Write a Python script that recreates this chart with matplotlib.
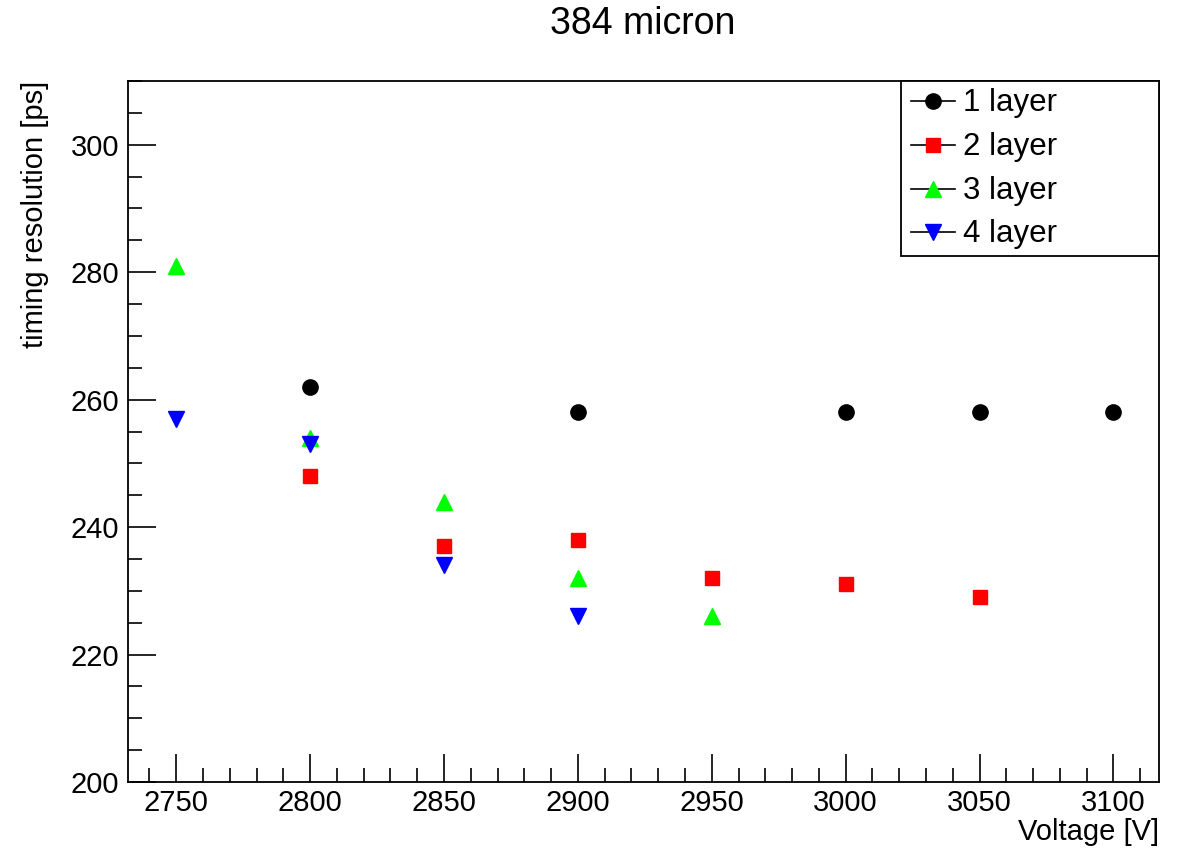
import matplotlib
matplotlib.use("Agg")
import matplotlib.pyplot as plt
from matplotlib.ticker import MultipleLocator
from matplotlib.lines import Line2D
from matplotlib.patches import Rectangle

plt.rcParams['font.family'] = ['Liberation Sans', 'DejaVu Sans']

# data
v1 = [2800, 2900, 3000, 3050, 3100]
t1 = [262, 258, 258, 258, 258]
v2 = [2800, 2850, 2900, 2950, 3000, 3050]
t2 = [248, 237, 238, 232, 231, 229]
v3 = [2750, 2800, 2850, 2900, 2950]
t3 = [281, 254, 244, 232, 226]
v4 = [2750, 2800, 2850, 2900]
t4 = [257, 253, 234, 226]
labels = ['1 layer', '2 layer', '3 layer', '4 layer']

styles = [('o', 'black', 11), ('s', '#ff0000', 10.5), ('^', '#00ff00', 11), ('v', '#0000ff', 11)]

fig = plt.figure(figsize=(11.84, 8.49), dpi=100)
ax = fig.add_axes([128/1184, 1-782/849, (1159-128)/1184, (782-81)/849])

for (vx, ty), (m, c, ms) in zip([(v1, t1), (v2, t2), (v3, t3), (v4, t4)], styles):
    ax.plot(vx, ty, m, color=c, ms=ms)

ax.set_xlim(2732, 3117)
ax.set_ylim(200, 310)
ax.xaxis.set_major_locator(MultipleLocator(50))
ax.xaxis.set_minor_locator(MultipleLocator(10))
ax.yaxis.set_major_locator(MultipleLocator(20))
ax.yaxis.set_minor_locator(MultipleLocator(5))
ax.tick_params(which='both', direction='in', top=False, right=False, labelsize=21, width=1.2)
ax.tick_params(which='major', length=20)
ax.tick_params(which='minor', length=10)
ax.tick_params(axis='x', which='major', pad=5)
ax.tick_params(axis='y', which='major', pad=6.5)
for s in ax.spines.values():
    s.set_linewidth(1.3)

fig.text(643/1184, 1-24/849, '384 micron', ha='center', va='center', fontsize=27)
fig.text(1159/1184, 1-818/849, 'Voltage [V]', ha='right', va='top', fontsize=21)
fig.text(35/1184, 1-81/849, 'timing resolution [ps]', ha='center', va='top', rotation=90, fontsize=21)

# ROOT-style legend box, drawn by hand in axes fractions
tr = ax.transAxes
ax.add_patch(Rectangle((0.7498, 0.7504), 0.2502, 0.2496, transform=tr, fill=True,
                       facecolor='white', edgecolor='black', lw=1.3, zorder=5, clip_on=False))
rows = [0.9715, 0.9087, 0.8459, 0.7846]
for yy, lab, (m, c, ms) in zip(rows, labels, styles):
    ax.add_line(Line2D([0.7594, 0.8021], [yy, yy], transform=tr, color='black', lw=1.2, zorder=6))
    ax.add_line(Line2D([0.7808], [yy], transform=tr, marker=m, color=c, ms=ms, ls='none', zorder=7))
    ax.text(0.8099, yy - 0.003, lab, transform=tr, ha='left', va='center', fontsize=22.5, zorder=7)

fig.savefig('out.png', dpi=100)
